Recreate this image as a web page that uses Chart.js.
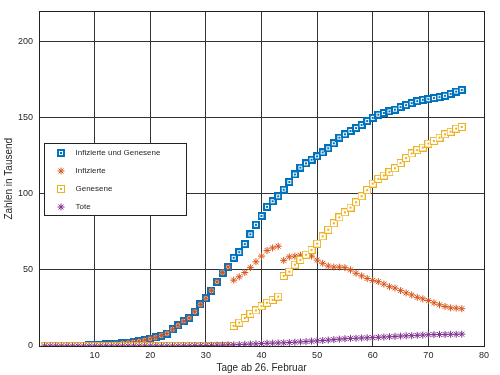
<!DOCTYPE html>
<html>
<head>
<meta charset="utf-8">
<title>Zahlen in Tausend</title>
<script src="https://cdn.jsdelivr.net/npm/chart.js@4.4.0/dist/chart.umd.min.js"></script>
<style>
    html, body { margin: 0; padding: 0; background: #fff; }
    #wrap { width: 500px; height: 375px; }
</style>
</head>
<body>
<div id="wrap"><canvas id="chart" width="500" height="375"></canvas></div>
<script>
// Days since 26 February
const days = [
    1, 2, 3, 4, 5, 6, 7, 8, 9, 10, 11, 12, 13, 14, 15, 16, 17, 18, 19, 20,
    21, 22, 23, 24, 25, 26, 27, 28, 29, 30, 31, 32, 33, 34, 35, 36, 37, 38, 39, 40,
    41, 42, 43, 44, 45, 46, 47, 48, 49, 50, 51, 52, 53, 54, 55, 56, 57, 58, 59, 60,
    61, 62, 63, 64, 65, 66, 67, 68, 69, 70, 71, 72, 73, 74, 75, 76
];

// Values in thousands
const infiziertUndGenesen = [
    0.0, 0.0, 0.1, 0.1, 0.1, 0.2, 0.2, 0.3, 0.4, 0.6,
    0.8, 1.0, 1.2, 1.4, 1.7, 2.1, 2.6, 3.2, 3.9, 4.7,
    5.6, 6.9, 8.2, 11.0, 13.6, 16.4, 18.4, 22.5, 27.3, 31.4,
    36.4, 42.2, 48.3, 52.0, 58.0, 61.7, 67.0, 73.4, 79.7, 85.5,
    91.5, 95.2, 98.5, 102.8, 107.8, 112.8, 117.3, 120.1, 122.5, 124.7,
    127.3, 130.0, 133.3, 137.0, 139.2, 141.4, 143.3, 145.3, 147.9, 150.0,
    152.1, 153.2, 154.3, 155.4, 157.1, 158.4, 159.7, 161.0, 161.9, 162.3,
    163.0, 163.6, 164.5, 165.8, 167.3, 168.4
];

const infizierte = [
    0.0, 0.0, 0.1, 0.1, 0.1, 0.2, 0.2, 0.3, 0.4, 0.6,
    0.8, 1.0, 1.2, 1.4, 1.7, 2.1, 2.6, 3.2, 3.9, 4.7,
    5.6, 6.9, 8.2, 11.0, 13.6, 16.4, 18.4, 22.5, 27.3, 31.4,
    36.4, 42.2, 48.3, 52.0, 43.3, 45.5, 48.3, 51.5, 55.4, 59.1,
    62.8, 64.5, 65.6, 56.3, 58.6, 59.1, 59.7, 59.7, 59.1, 56.5,
    54.4, 52.6, 51.9, 51.9, 51.5, 50.0, 47.8, 46.1, 44.4, 43.1,
    42.3, 40.7, 39.0, 38.1, 36.4, 34.9, 33.6, 32.0, 31.0, 29.9,
    28.4, 27.1, 26.0, 25.1, 24.9, 24.5
];

const genesene = [
    0, 0, 0, 0, 0, 0, 0, 0, 0, 0,
    0, 0, 0, 0, 0, 0, 0, 0, 0, 0,
    0, 0, 0, 0, 0, 0, 0, 0, 0, 0,
    0, 0, 0, 0, 13.2, 15.4, 18.4, 21.2, 23.4, 26.2,
    28.4, 30.3, 32.5, 46.1, 48.9, 53.5, 56.6, 60.0, 63.2, 67.3,
    72.1, 76.4, 80.7, 84.6, 87.9, 91.0, 94.5, 98.5, 102.5, 106.8,
    109.9, 112.1, 114.3, 116.9, 120.3, 123.6, 126.6, 128.8, 130.5, 133.1,
    134.9, 137.0, 139.2, 140.9, 142.9, 144.0
];

const tote = [
    0.0, 0.0, 0.0, 0.0, 0.0, 0.0, 0.0, 0.0, 0.0, 0.0,
    0.0, 0.0, 0.0, 0.0, 0.0, 0.0, 0.0, 0.0, 0.0, 0.0,
    0.0, 0.0, 0.0, 0.0, 0.0, 0.1, 0.1, 0.2, 0.2, 0.3,
    0.4, 0.5, 0.6, 0.7, 0.8, 0.9, 1.1, 1.3, 1.4, 1.6,
    1.8, 1.9, 2.0, 2.1, 2.3, 2.5, 2.7, 2.9, 3.2, 3.4,
    3.6, 3.9, 4.2, 4.5, 4.8, 5.0, 5.1, 5.3, 5.4, 5.5,
    5.7, 5.9, 6.1, 6.3, 6.5, 6.7, 6.8, 7.0, 7.2, 7.4,
    7.5, 7.6, 7.6, 7.7, 7.7, 7.8
];

const seriesNames = ['Infizierte und Genesene', 'Infizierte', 'Genesene', 'Tote'];
const xTicks = [0, 10, 20, 30, 40, 50, 60, 70, 80];
const yTicks = [0, 50, 100, 150, 200];

const FONT = "'Liberation Sans', Arial, sans-serif";
const TEXT = '#262626';

// square marker with a dot in the middle (like the MATLAB export)
function squareMarker(color, lineWidth, size) {
    const c = document.createElement('canvas');
    c.width = size;
    c.height = size;
    const g = c.getContext('2d');
    g.fillStyle = '#fff';
    g.fillRect(0, 0, size, size);
    g.strokeStyle = color;
    g.lineWidth = lineWidth;
    g.strokeRect(lineWidth / 2, lineWidth / 2, size - lineWidth, size - lineWidth);
    g.fillStyle = color;
    g.fillRect(size / 2 - 1, size / 2 - 1, 2, 2);
    return c;
}

const blueMarker = squareMarker('#0072BD', 2, 8);
const yellowMarker = squareMarker('#EDB120', 1, 8);

function toPoints(values) {
    return days.map((d, i) => ({ x: d, y: values[i] }));
}

function drawStar(ctx, x, y, r) {
    ctx.beginPath();
    for (let k = 0; k < 4; k++) {
        const a = k * Math.PI / 4;
        ctx.moveTo(x - Math.cos(a) * r, y - Math.sin(a) * r);
        ctx.lineTo(x + Math.cos(a) * r, y + Math.sin(a) * r);
    }
    ctx.stroke();
}

// full box around the plot area
const boxPlugin = {
    id: 'box',
    afterDatasetsDraw(chart) {
        const { ctx, chartArea: a } = chart;
        ctx.save();
        ctx.strokeStyle = '#222';
        ctx.lineWidth = 1;
        ctx.strokeRect(Math.round(a.left) + 0.5, Math.round(a.top) + 0.5,
            Math.round(a.right - a.left), Math.round(a.bottom - a.top));
        ctx.restore();
    }
};

// legend box inside the plot area
const legendPlugin = {
    id: 'insideLegend',
    afterDraw(chart) {
        const { ctx, chartArea: a } = chart;
        const x0 = Math.round(a.left) + 5.5;
        const y0 = Math.round(a.top) + 132.5;
        const w = 142, h = 72;
        ctx.save();
        ctx.fillStyle = '#fff';
        ctx.fillRect(x0, y0, w, h);
        ctx.strokeStyle = '#222';
        ctx.lineWidth = 1;
        ctx.strokeRect(x0, y0, w, h);

        ctx.font = '8px ' + FONT;
        ctx.textBaseline = 'middle';
        ctx.textAlign = 'left';
        chart.data.datasets.forEach((ds, i) => {
            const cy = y0 + 9.5 + i * 18;
            const mx = x0 + 16.5;
            if (ds.pointStyle instanceof HTMLCanvasElement) {
                ctx.drawImage(ds.pointStyle, Math.round(mx - 4), Math.round(cy - 4));
            } else {
                ctx.strokeStyle = ds.borderColor;
                ctx.lineWidth = ds.borderWidth;
                drawStar(ctx, mx, cy, ds.pointRadius);
            }
            ctx.fillStyle = TEXT;
            ctx.fillText(ds.label, x0 + 31, cy);
        });
        ctx.restore();
    }
};

const ctx = document.getElementById('chart').getContext('2d');

new Chart(ctx, {
    type: 'line',
    data: {
        datasets: [
            {
                label: seriesNames[0],
                data: toPoints(infiziertUndGenesen),
                showLine: false,
                pointStyle: blueMarker,
                pointRadius: 4,
                borderColor: '#0072BD',
                backgroundColor: '#0072BD',
                order: 4
            },
            {
                label: seriesNames[1],
                data: toPoints(infizierte),
                showLine: false,
                pointStyle: 'star',
                pointRadius: 3.5,
                borderWidth: 1,
                borderColor: '#D95319',
                backgroundColor: '#D95319',
                order: 3
            },
            {
                label: seriesNames[2],
                data: toPoints(genesene),
                showLine: false,
                pointStyle: yellowMarker,
                pointRadius: 4,
                borderColor: '#EDB120',
                backgroundColor: '#EDB120',
                order: 2
            },
            {
                label: seriesNames[3],
                data: toPoints(tote),
                showLine: false,
                pointStyle: 'star',
                pointRadius: 3.5,
                borderWidth: 1,
                borderColor: '#7E2F8E',
                backgroundColor: '#7E2F8E',
                order: 1
            }
        ]
    },
    options: {
        responsive: false,
        animation: false,
        layout: {
            padding: { top: 9, right: 16, left: 0, bottom: 0 }
        },
        plugins: {
            legend: { display: false },
            tooltip: { enabled: false }
        },
        scales: {
            x: {
                type: 'linear',
                min: 0,
                max: 80,
                afterBuildTicks: (scale) => {
                    scale.ticks = xTicks.map(v => ({ value: v }));
                },
                afterFit: (scale) => {
                    scale.height = 29;
                },
                ticks: {
                    callback: (v) => (v === 0 ? '' : v),
                    maxRotation: 0,
                    autoSkip: false,
                    padding: 4,
                    color: TEXT,
                    font: { family: FONT, size: 9 }
                },
                grid: {
                    color: '#333',
                    lineWidth: 1,
                    drawTicks: false
                },
                border: { display: true, color: '#222' },
                title: {
                    display: true,
                    text: 'Tage ab 26. Februar',
                    color: TEXT,
                    font: { family: FONT, size: 10 },
                    padding: { top: 0, bottom: 1 }
                }
            },
            y: {
                type: 'linear',
                min: 0,
                max: 220,
                afterBuildTicks: (scale) => {
                    scale.ticks = yTicks.map(v => ({ value: v }));
                },
                afterFit: (scale) => {
                    scale.width = 39;
                },
                ticks: {
                    padding: 6,
                    color: TEXT,
                    font: { family: FONT, size: 9 }
                },
                grid: {
                    color: '#333',
                    lineWidth: 1,
                    drawTicks: false
                },
                border: { display: true, color: '#222' },
                title: {
                    display: true,
                    text: 'Zahlen in Tausend',
                    color: TEXT,
                    font: { family: FONT, size: 10 },
                    padding: { top: 3, bottom: 0 }
                }
            }
        }
    },
    plugins: [boxPlugin, legendPlugin]
});
</script>
</body>
</html>
